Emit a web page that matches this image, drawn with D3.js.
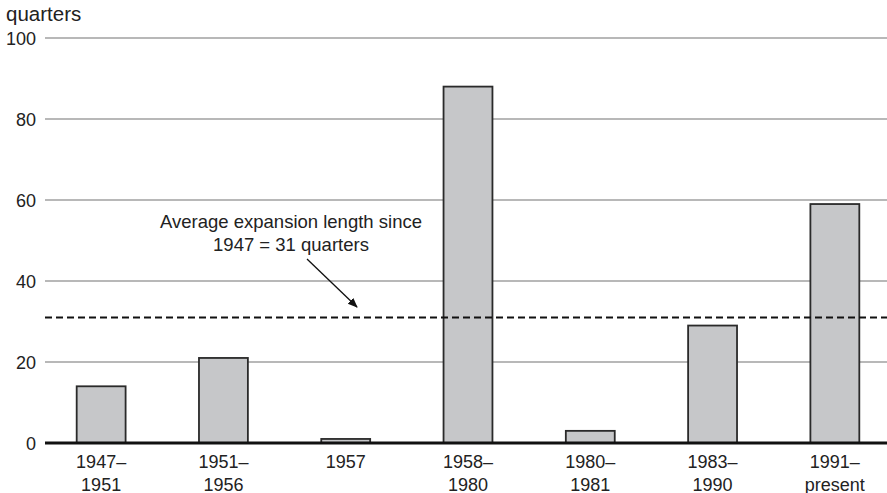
<!DOCTYPE html>
<html>
<head>
<meta charset="utf-8">
<script src="https://cdn.jsdelivr.net/npm/d3@7"></script>
<style>
  html, body { margin: 0; padding: 0; background: #fff; }
  svg { display: block; font-family: "Liberation Sans", Arial, Helvetica, sans-serif; }
</style>
</head>
<body>
<svg id="chart" width="887" height="493"></svg>
<script>
// Expansion periods and their lengths in quarters
const periodLine1 = ["1947–", "1951–", "1957", "1958–", "1980–", "1983–", "1991–"];
const periodLine2 = ["1951", "1956", "", "1980", "1981", "1990", "present"];
const lengths = [14, 21, 1, 88, 3, 29, 59];
const yTicks = [0, 20, 40, 60, 80, 100];
const averageLength = 31;
const averageNote = ["Average expansion length since", "1947 = 31 quarters"];

const svg = d3.select("#chart");
const plotLeft = 45, plotRight = 887, plotTop = 38, plotBottom = 443;

const x = d3.scaleBand()
  .domain(d3.range(lengths.length))
  .range([40, 896])
  .paddingInner(0.6)
  .paddingOuter(0.3);

const y = d3.scaleLinear().domain([0, 100]).range([plotBottom, plotTop]);

// Gridlines
svg.append("g")
  .selectAll("line")
  .data(yTicks.filter(d => d > 0))
  .join("line")
  .attr("x1", plotLeft).attr("x2", plotRight)
  .attr("y1", d => y(d)).attr("y2", d => y(d))
  .attr("stroke", "#a0a0a0").attr("stroke-width", 1.5);

// Y tick labels
svg.append("g")
  .selectAll("text")
  .data(yTicks)
  .join("text")
  .attr("x", 36).attr("y", d => y(d) + 6.5)
  .attr("text-anchor", "end")
  .attr("font-size", 18).attr("fill", "#222")
  .text(d => d);

svg.append("text")
  .attr("x", 6).attr("y", 21)
  .attr("font-size", 20.5).attr("fill", "#222")
  .text("quarters");

// Bars
svg.append("g")
  .selectAll("rect")
  .data(lengths)
  .join("rect")
  .attr("x", (d, i) => x(i))
  .attr("y", d => y(d))
  .attr("width", x.bandwidth())
  .attr("height", d => y(0) - y(d))
  .attr("fill", "#c6c7c9")
  .attr("stroke", "#2a2a2a").attr("stroke-width", 1.8);

// Average line
svg.append("line")
  .attr("x1", plotLeft).attr("x2", plotRight)
  .attr("y1", y(averageLength)).attr("y2", y(averageLength))
  .attr("stroke", "#111").attr("stroke-width", 2)
  .attr("stroke-dasharray", "7,4");

// Zero baseline
svg.append("line")
  .attr("x1", plotLeft).attr("x2", plotRight)
  .attr("y1", y(0)).attr("y2", y(0))
  .attr("stroke", "#111").attr("stroke-width", 3.2);

// X labels
const xl = svg.append("g");
xl.selectAll("text.l1")
  .data(periodLine1)
  .join("text").attr("class", "l1")
  .attr("x", (d, i) => x(i) + x.bandwidth() / 2)
  .attr("y", 467.5)
  .attr("text-anchor", "middle").attr("font-size", 18).attr("fill", "#222")
  .text(d => d);
xl.selectAll("text.l2")
  .data(periodLine2)
  .join("text").attr("class", "l2")
  .attr("x", (d, i) => x(i) + x.bandwidth() / 2)
  .attr("y", 490.5)
  .attr("text-anchor", "middle").attr("font-size", 18).attr("fill", "#222")
  .text(d => d);

// Annotation
svg.append("defs").append("marker")
  .attr("id", "arrow")
  .attr("viewBox", "0 0 10 10")
  .attr("refX", 9).attr("refY", 5)
  .attr("markerWidth", 10).attr("markerHeight", 10)
  .attr("markerUnits", "userSpaceOnUse")
  .attr("orient", "auto")
  .append("path").attr("d", "M0,1 L10,5 L0,9 Z").attr("fill", "#111");

svg.append("g")
  .selectAll("text")
  .data(averageNote)
  .join("text")
  .attr("x", 291).attr("y", (d, i) => 228 + i * 22.5)
  .attr("text-anchor", "middle").attr("font-size", 18.5).attr("fill", "#222")
  .text(d => d);

svg.append("line")
  .attr("x1", 307).attr("y1", 259)
  .attr("x2", 357).attr("y2", 307)
  .attr("stroke", "#111").attr("stroke-width", 1.3)
  .attr("marker-end", "url(#arrow)");
</script>
</body>
</html>
